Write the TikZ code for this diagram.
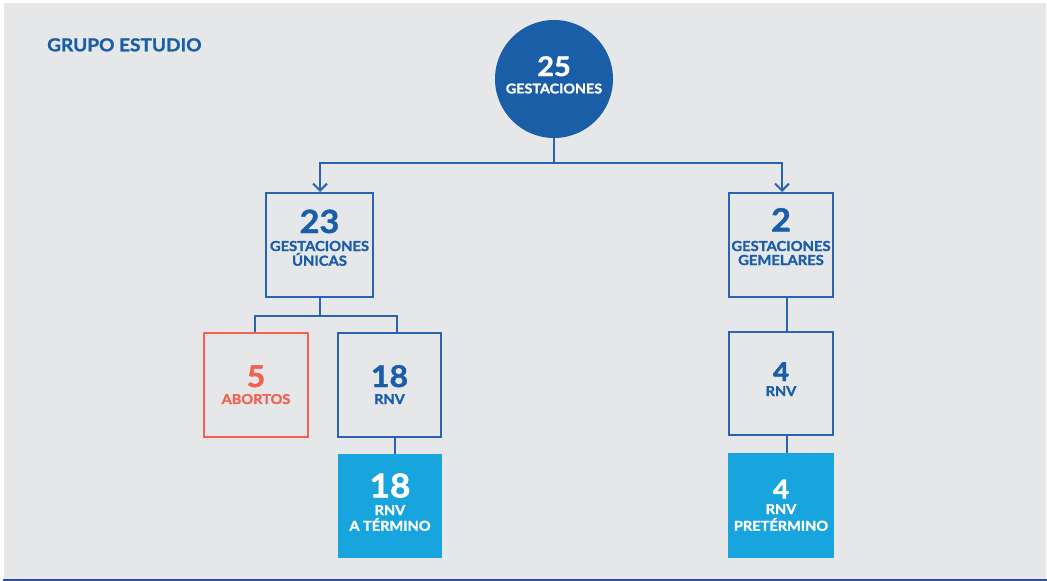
\documentclass[tikz,border=0pt]{standalone}
\usepackage{fontspec}
\setmainfont{Lato}[BoldFeatures={FakeBold=1.4,FakeStretch=1.07}]
\usetikzlibrary{arrows.meta}
\definecolor{bgray}{HTML}{E6E7E9}
\definecolor{navy}{HTML}{1B5EA8}
\definecolor{linkblue}{HTML}{2C63B0}
\definecolor{coral}{HTML}{EF6352}
\definecolor{sky}{HTML}{18A4DC}
\definecolor{rule}{HTML}{2E4D9A}
\newcommand{\fsz}[1]{\fontsize{#1}{#1}\selectfont}
\tikzset{
  boxline/.style={draw=linkblue, line width=2pt, minimum width=104pt, minimum height=104pt, inner sep=0pt},
  abortbox/.style={boxline, draw=coral},
  solidbox/.style={fill=sky, minimum width=104pt, minimum height=104pt, inner sep=0pt},
  link/.style={draw=linkblue, line width=2pt},
  numtxt/.style={font=\bfseries\fsz{#1}, inner sep=0pt, anchor=base},
  captxt/.style={font=\bfseries\fsz{#1}, inner sep=0pt, anchor=base},
  tip/.style={-{Straight Barb[length=7pt,width=14pt]}}
}
\begin{document}
\begin{tikzpicture}[x=1pt,y=-1pt]
  % page frame
  \useasboundingbox (0,0) rectangle (1047,581);
  \fill[white] (0,0) rectangle (1047,581);
  \fill[bgray] (4,3) rectangle (1046,579);
  \fill[rule] (3,579) rectangle (1047,581);

  \node[captxt=17.8, text=navy, anchor=base west] (title) at (47,51.3) {GRUPO ESTUDIO};

  % top circle
  \node[circle, fill=navy, minimum size=118pt, inner sep=0pt] (c0) at (554,79) {};
  \node[numtxt=27, text=white] (c0n) at (554,76) {25};
  \node[captxt=13.4, text=white] (c0l) at (554,93.4) {GESTACIONES};

  % second level
  \node[boxline, minimum width=107pt] (b1) at (319.5,245) {};
  \node[numtxt=32, text=navy] (b1n) at (319.5,233) {23};
  \node[captxt=13.8, text=navy] (b1l) at (319.5,251) {GESTACIONES};
  \node[captxt=13.8, text=navy] (b1m) at (319.5,265.7) {ÚNICAS};

  \node[boxline] (g1) at (781,245) {};
  \node[numtxt=32, text=navy] (g1n) at (781,231.5) {2};
  \node[captxt=13.8, text=navy] (g1l) at (781,251) {GESTACIONES};
  \node[captxt=13.8, text=navy] (g1m) at (781,265) {GEMELARES};

  % third level
  \node[abortbox] (b2) at (256,385) {};
  \node[numtxt=30, text=coral] (b2n) at (256,387) {5};
  \node[captxt=13.6, text=coral] (b2l) at (256,404) {ABORTOS};

  \node[boxline, minimum width=103pt] (b3) at (389.5,385) {};
  \node[numtxt=30, text=navy] (b3n) at (389.5,387) {18};
  \node[captxt=13.6, text=navy] (b3l) at (389.5,404) {RNV};

  \node[boxline, minimum height=103pt] (g2) at (781,383.5) {};
  \node[numtxt=26, text=navy] (g2n) at (781,381) {4};
  \node[captxt=13.6, text=navy] (g2l) at (781,396) {RNV};

  % bottom level
  \node[solidbox] (b4) at (390,506) {};
  \node[numtxt=33, text=white] (b4n) at (390,497.5) {18};
  \node[captxt=13.6, text=white] (b4l) at (390,515) {RNV};
  \node[captxt=13.6, text=white] (b4m) at (390,530.7) {A TÉRMINO};

  \node[solidbox, minimum width=106pt, minimum height=105pt] (g3) at (781,505.5) {};
  \node[numtxt=26, text=white] (g3n) at (781,498.5) {4};
  \node[captxt=13.6, text=white] (g3l) at (781,514) {RNV};
  \node[captxt=13.6, text=white] (g3m) at (781,530.7) {PRETÉRMINO};

  % connectors
  \coordinate (split0) at (554,163);
  \draw[link] (c0.south) -- (split0);
  \draw[link, tip] (split0) -| ([xshift=0.5pt]b1.north);
  \draw[link, tip] (split0) -| ([xshift=1pt]g1.north);

  \coordinate (split1) at (320,316);
  \draw[link] ([xshift=0.5pt]b1.south) -- (split1);
  \draw[link] (split1) -| ([xshift=-1pt]b2.north);
  \draw[link] (split1) -| ([xshift=7.5pt]b3.north);

  \draw[link] ([xshift=5.5pt]b3.south) -- ([xshift=5pt]b4.north);
  \draw[link] ([xshift=6pt]g1.south) -- ([xshift=6pt]g2.north);
  \draw[link] ([xshift=6pt]g2.south) -- ([xshift=6pt]g3.north);
\end{tikzpicture}
\end{document}
